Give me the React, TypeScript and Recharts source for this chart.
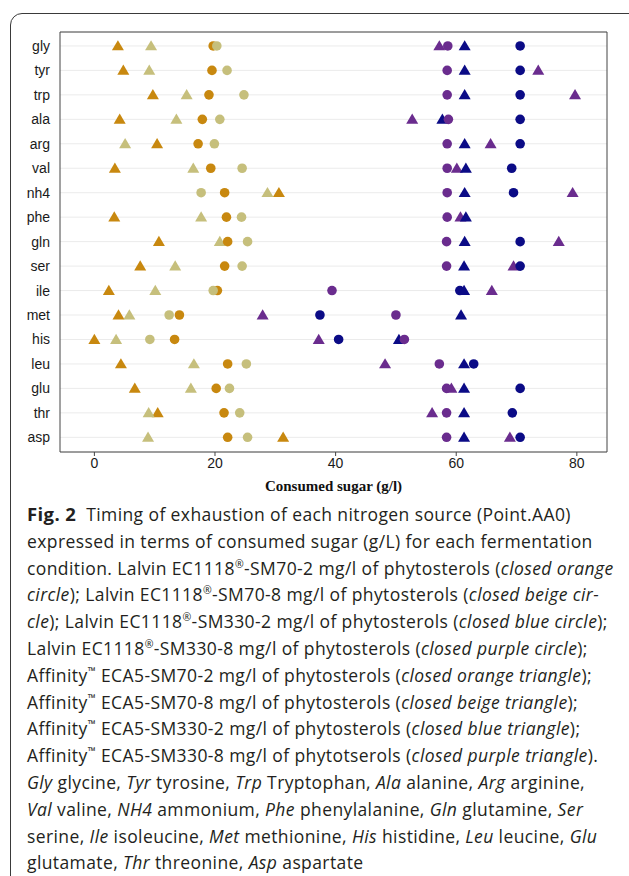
import {
  CartesianGrid,
  ReferenceLine,
  Scatter,
  ScatterChart,
  XAxis,
  YAxis,
} from "recharts";

const AMINOACIDOS = [
  "gly", "tyr", "trp", "ala", "arg", "val", "nh4", "phe", "gln",
  "ser", "ile", "met", "his", "leu", "glu", "thr", "asp",
];

const TICKS_X = [0, 20, 40, 60, 80];
const X_MIN = -5.7;
const X_MAX = 85;

// valores, na ordem de AMINOACIDOS (null = ponto ausente)
const EC_SM70_2 = [19.7, 19.5, 19.0, 17.9, 17.2, 19.3, 21.6, 21.9, 22.1, 21.6, 20.4, 14.1, 13.3, 22.1, 20.2, 21.5, 22.1];
const EC_SM70_8 = [20.3, 22.0, 24.8, 20.8, 19.9, 24.5, 17.7, 24.4, 25.4, 24.5, 19.7, 12.4, 9.2, 25.2, 22.4, 24.1, 25.4];
const EC_SM330_2 = [70.6, 70.6, 70.6, 70.6, 70.6, 69.2, 69.5, null, 70.6, 70.6, 60.6, 37.4, 40.5, 62.9, 70.6, 69.3, 70.6];
const EC_SM330_8 = [58.6, 58.5, 58.5, 58.7, 58.5, 58.5, 58.5, 58.5, 58.4, 58.4, 39.4, 50.0, 51.4, 57.2, 58.4, 58.4, 58.4];
const AF_SM70_2 = [3.9, 4.8, 9.7, 4.2, 10.4, 3.4, 30.6, 3.3, 10.7, 7.6, 2.4, 4.0, 0.0, 4.4, 6.7, 10.5, 31.3];
const AF_SM70_8 = [9.4, 9.1, 15.3, 13.6, 5.1, 16.4, 28.7, 17.7, 20.8, 13.4, 10.1, 5.8, 3.6, 16.5, 16.0, 9.0, 8.9];
const AF_SM330_2 = [61.4, 61.4, 61.4, 57.7, 61.4, 61.6, 61.4, 61.6, 61.4, 61.3, 61.3, 60.8, 50.5, 61.3, 61.3, 61.3, 61.3];
const AF_SM330_8 = [57.2, 73.6, 79.7, 52.7, 65.7, 60.1, 79.3, 60.7, 77.0, 69.5, 65.9, 27.9, 37.2, 48.2, 59.2, 56.0, 68.9];

const LARANJA = "#c8880f";
const BEGE = "#c6bf7c";
const AZUL = "#0b0b86";
const ROXO = "#6a2c8e";

const FONTE_EIXO = "'Liberation Sans', Arial, sans-serif";

function pontos(valores: (number | null)[]) {
  return valores
    .map((v, i) => (v == null ? null : { x: v, y: i }))
    .filter((p) => p !== null);
}

function circulo(cor: string) {
  return (props: any) => (
    <circle cx={props.cx} cy={props.cy} r={4.8} fill={cor} />
  );
}

function triangulo(cor: string) {
  return (props: any) => {
    const { cx, cy } = props;
    return (
      <polygon
        points={`${cx},${cy - 5.8} ${cx + 6},${cy + 4.4} ${cx - 6},${cy + 4.4}`}
        fill={cor}
      />
    );
  };
}

const SERIES = [
  { nome: "Affinity ECA5-SM70-2", dados: AF_SM70_2, forma: triangulo(LARANJA) },
  { nome: "Affinity ECA5-SM70-8", dados: AF_SM70_8, forma: triangulo(BEGE) },
  { nome: "Affinity ECA5-SM330-8", dados: AF_SM330_8, forma: triangulo(ROXO) },
  { nome: "EC1118-SM330-2", dados: EC_SM330_2, forma: circulo(AZUL) },
  { nome: "Affinity ECA5-SM330-2", dados: AF_SM330_2, forma: triangulo(AZUL) },
  { nome: "EC1118-SM70-2", dados: EC_SM70_2, forma: circulo(LARANJA) },
  { nome: "EC1118-SM70-8", dados: EC_SM70_8, forma: circulo(BEGE) },
  { nome: "EC1118-SM330-8", dados: EC_SM330_8, forma: circulo(ROXO) },
];

const sup = { fontSize: "0.6em", verticalAlign: "super", lineHeight: 0 } as const;

export default function App() {
  return (
    <div
      style={{
        position: "fixed",
        left: 0,
        top: 0,
        width: 629,
        height: 876,
        overflow: "hidden",
        background: "#fff",
      }}
    >
      <div
        style={{
          position: "absolute",
          left: 10,
          top: 13,
          width: 800,
          height: 1000,
          border: "1px solid #3a3a3a",
          borderTopLeftRadius: 12,
        }}
      />
      <div style={{ position: "absolute", left: 0, top: 0 }}>
        <ScatterChart
          width={629}
          height={500}
          margin={{ top: 22, right: 22, left: 10, bottom: 18 }}
        >
          <CartesianGrid horizontal vertical={false} stroke="#ebebeb" />
          <XAxis
            type="number"
            dataKey="x"
            domain={[X_MIN, X_MAX]}
            ticks={TICKS_X}
            allowDataOverflow
            height={30}
            tickSize={4}
            stroke="#444"
            tick={{ fill: "#1a1a1a", fontSize: 14, fontFamily: FONTE_EIXO }}
          />
          <XAxis
            xAxisId="top"
            orientation="top"
            type="number"
            domain={[X_MIN, X_MAX]}
            ticks={TICKS_X}
            allowDataOverflow
            height={10}
            tickSize={5}
            stroke="#444"
            tickFormatter={() => ""}
          />
          <YAxis
            type="number"
            dataKey="y"
            domain={[-0.57, 16.6]}
            reversed
            ticks={AMINOACIDOS.map((_, i) => i)}
            interval={0}
            allowDataOverflow
            width={50}
            tickLine={false}
            tickMargin={4}
            stroke="#444"
            tickFormatter={(i: number) => AMINOACIDOS[i] ?? ""}
            tick={{ fill: "#1a1a1a", fontSize: 14, fontFamily: FONTE_EIXO }}
          />
          <ReferenceLine x={X_MAX} stroke="#444" ifOverflow="visible" />
          {SERIES.map((s) => (
            <Scatter
              key={s.nome}
              name={s.nome}
              data={pontos(s.dados)}
              shape={s.forma}
              isAnimationActive={false}
            />
          ))}
        </ScatterChart>
      </div>
      <div
        style={{
          position: "absolute",
          left: 60,
          width: 547,
          top: 478,
          textAlign: "center",
          fontFamily: "'Liberation Serif', 'Times New Roman', serif",
          fontWeight: "bold",
          fontSize: 15,
          color: "#111",
        }}
      >
        Consumed sugar (g/l)
      </div>
      <div
        style={{
          position: "absolute",
          left: 27,
          top: 501,
          fontFamily: "'Open Sans', Lato, sans-serif",
          fontSize: 17.5,
          letterSpacing: 0.4,
          lineHeight: "26.8px",
          color: "#231f20",
          whiteSpace: "nowrap",
        }}
      >
        <div>
          <b style={{ fontSize: 18.5 }}>Fig. 2</b>&nbsp; Timing of exhaustion of each nitrogen source (Point.AA0)
        </div>
        <div>expressed in terms of consumed sugar (g/L) for each fermentation</div>
        <div>
          condition. Lalvin EC1118<span style={sup}>®</span>-SM70-2 mg/l of phytosterols (
          <i>closed orange</i>
        </div>
        <div>
          <i>circle</i>); Lalvin EC1118<span style={sup}>®</span>-SM70-8 mg/l of phytosterols (
          <i>closed beige cir-</i>
        </div>
        <div>
          <i>cle</i>); Lalvin EC1118<span style={sup}>®</span>-SM330-2 mg/l of phytosterols (
          <i>closed blue circle</i>);
        </div>
        <div>
          Lalvin EC1118<span style={sup}>®</span>-SM330-8 mg/l of phytosterols (
          <i>closed purple circle</i>);
        </div>
        <div>
          Affinity<span style={sup}>™</span> ECA5-SM70-2 mg/l of phytosterols (
          <i>closed orange triangle</i>);
        </div>
        <div>
          Affinity<span style={sup}>™</span> ECA5-SM70-8 mg/l of phytosterols (
          <i>closed beige triangle</i>);
        </div>
        <div>
          Affinity<span style={sup}>™</span> ECA5-SM330-2 mg/l of phytosterols (
          <i>closed blue triangle</i>);
        </div>
        <div>
          Affinity<span style={sup}>™</span> ECA5-SM330-8 mg/l of phytotserols (
          <i>closed purple triangle</i>).
        </div>
        <div>
          <i>Gly</i> glycine, <i>Tyr</i> tyrosine, <i>Trp</i> Tryptophan, <i>Ala</i> alanine,{" "}
          <i>Arg</i> arginine,
        </div>
        <div>
          <i>Val</i> valine, <i>NH4</i> ammonium, <i>Phe</i> phenylalanine, <i>Gln</i> glutamine,{" "}
          <i>Ser</i>
        </div>
        <div>
          serine, <i>Ile</i> isoleucine, <i>Met</i> methionine, <i>His</i> histidine,{" "}
          <i>Leu</i> leucine, <i>Glu</i>
        </div>
        <div>
          glutamate, <i>Thr</i> threonine, <i>Asp</i> aspartate
        </div>
      </div>
    </div>
  );
}
